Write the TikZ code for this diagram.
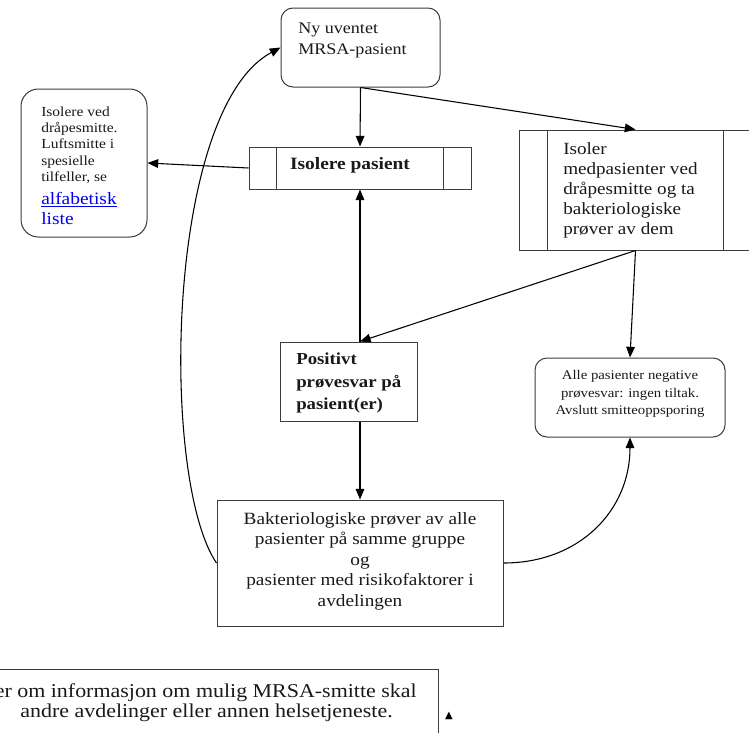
\documentclass[tikz,border=0pt]{standalone}
\usepackage{fontspec}
\setmainfont{Liberation Serif}[FakeStretch=1.12]
\newfontfamily\symfont{DejaVu Sans}
\usetikzlibrary{arrows.meta}
\newlength\px \setlength\px{0.75pt}
\definecolor{linkblue}{RGB}{0,0,238}
\definecolor{edge}{RGB}{60,60,60}
\begin{document}
\begin{tikzpicture}[x=0.75pt,y=-0.75pt,
  box/.style={draw=edge, line width=0.75pt, inner sep=0pt},
  rbox/.style={box, rounded corners=9pt},
  arr/.style={-{Triangle[length=8pt,width=6.5pt]}, line width=0.8pt},
  txt/.style={inner sep=0pt, align=left, text=black!90}]
\useasboundingbox (0,0) rectangle (749,732);
\clip (0,0) rectangle (749,732);

% boxes
\node[rbox, minimum width=159\px, minimum height=79\px] (top) at (360.5,47.5) {};
\node[txt, anchor=west, font=\fontsize{12.1}{15.75}\selectfont] (toptxt) at (298,40.5) {Ny uventet\\MRSA-pasient};

\node[box, rounded corners=13pt, minimum width=126\px, minimum height=148\px] (left) at (84,163) {};
\node[txt, anchor=west, font=\fontsize{10.4}{12.2}\selectfont] (lefttxt) at (41,145) {Isolere ved\\dråpesmitte.\\Luftsmitte i\\spesielle\\tilfeller, se};
\node[txt, anchor=west, text=linkblue, font=\fontsize{13}{15}\selectfont] (link) at (41,208) {\underline{alfabetisk}\\liste};

\node[box, minimum width=222\px, minimum height=42\px] (iso) at (360,168) {};
\draw[edge, line width=0.75pt] ([xshift=28\px]iso.north west) -- ([xshift=28\px]iso.south west);
\draw[edge, line width=0.75pt] ([xshift=-28\px]iso.north east) -- ([xshift=-28\px]iso.south east);
\node[txt, font=\bfseries\fontsize{13}{15}\selectfont] (isotxt) at (350,165) {Isolere pasient};

\node[box, minimum width=233\px, minimum height=120\px] (rbox) at (635.5,190) {};
\draw[edge, line width=0.75pt] ([xshift=29\px]rbox.north west) -- ([xshift=29\px]rbox.south west);
\draw[edge, line width=0.75pt] ([xshift=-29\px]rbox.north east) -- ([xshift=-29\px]rbox.south east);
\node[txt, anchor=west, font=\fontsize{12.8}{15}\selectfont] (rtxt) at (563,190) {Isoler\\medpasienter ved\\dråpesmitte og ta\\bakteriologiske\\prøver av dem};

\node[box, minimum width=137\px, minimum height=79\px] (pos) at (348.5,381.5) {};
\node[txt, anchor=west, font=\bfseries\fontsize{12.6}{17}\selectfont] (postxt) at (296,383) {Positivt\\prøvesvar på\\pasient(er)};

\node[rbox, minimum width=190\px, minimum height=79\px] (alle) at (630,397.5) {};
\node[txt, align=center, font=\fontsize{9.9}{13}\selectfont] (alletxt) at (630,394) {Alle pasienter negative\\prøvesvar: ingen tiltak.\\Avslutt smitteoppsporing};

\node[box, minimum width=286\px, minimum height=126\px] (bakt) at (360,563) {};
\node[txt, align=center, font=\fontsize{12.9}{15.4}\selectfont] (bakttxt) at (360,561) {Bakteriologiske prøver av alle\\pasienter på samme gruppe\\og\\pasienter med risikofaktorer i\\avdelingen};

\node[box, anchor=north east, minimum width=460\px, minimum height=80\px] (note) at (439,669) {};
\node[txt, anchor=base east, font=\fontsize{14.7}{15}\selectfont] (note1) at (417,697) {er om informasjon om mulig MRSA-smitte skal};
\node[txt, anchor=base east, font=\fontsize{14.7}{15}\selectfont] (note2) at (393,717) {andre avdelinger eller annen helsetjeneste.};
\node[inner sep=0pt, font=\symfont\fontsize{7.5}{7.5}\selectfont] (tri) at (449,716) {▲};

% connectors
\draw[arr] (top.south) -- (iso.north);
\draw[arr] (top.south) -- (rbox.north);
\draw[arr] (iso.west) -- (left.east);
\draw[arr] (iso.south |- pos.north) -- (iso.south);
\draw[arr] (rbox.south) -- (iso.south |- pos.north);
\draw[arr] (rbox.south) -- (alle.north);
\draw[arr] (iso.south |- pos.south) -- (bakt.north);
\draw[arr] (bakt.west) .. controls (160,480) and (165,110) .. (top.west);
\draw[arr] (bakt.east) .. controls (580,563) and (630,510) .. (alle.south);
\end{tikzpicture}
\end{document}
